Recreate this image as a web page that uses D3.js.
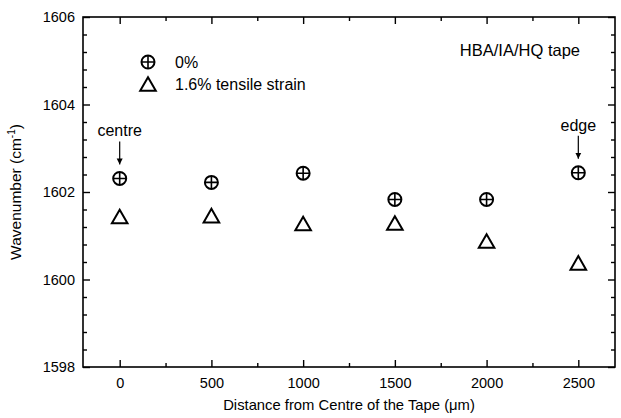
<!DOCTYPE html>
<html>
<head>
<meta charset="utf-8">
<script src="https://cdn.jsdelivr.net/npm/d3@7"></script>
<style>
  body { margin: 0; background: #fff; }
  text { font-family: "Liberation Sans", Arial, sans-serif; fill: #000; }
</style>
</head>
<body>
<svg id="chart" width="621" height="418"></svg>
<script>
// data
var positions = [0, 500, 1000, 1500, 2000, 2500];
var unstrained = [1602.31, 1602.22, 1602.43, 1601.83, 1601.83, 1602.44];
var strained = [1601.44, 1601.46, 1601.28, 1601.29, 1600.88, 1600.38];
var xTicks = [0, 500, 1000, 1500, 2000, 2500];
var yTicks = [1598, 1600, 1602, 1604, 1606];
var seriesNames = ["0%", "1.6% tensile strain"];

var margin = {top: 17, right: 6, bottom: 51, left: 83};
var width = 621 - margin.left - margin.right;
var height = 418 - margin.top - margin.bottom;

var svg = d3.select("#chart");
var g = svg.append("g").attr("transform", `translate(${margin.left},${margin.top})`);

var x = d3.scaleLinear().domain([-200, 2700]).range([0, width]);
var y = d3.scaleLinear().domain([1598, 1606]).range([height, 0]);

// minor ticks
var xMinor = d3.range(-250, 2751, 250).filter(v => v >= -200 && v <= 2700 && xTicks.indexOf(v) < 0);
var yMinor = d3.range(1598, 1606.01, 0.4).map(v => +v.toFixed(1)).filter(v => v % 2 != 0);

function axisPair(axis, transform) {
  var a = g.append("g").attr("transform", transform).call(axis);
  a.select(".domain").remove();
  a.selectAll("line").attr("stroke", "#000").attr("stroke-width", 1.4);
  return a;
}

// bottom
axisPair(d3.axisBottom(x).tickValues(xTicks).tickSize(-7).tickPadding(11).tickFormat(d3.format("d")), `translate(0,${height})`);
axisPair(d3.axisBottom(x).tickValues(xMinor).tickSize(-4).tickFormat(""), `translate(0,${height})`);
// top
axisPair(d3.axisTop(x).tickValues(xTicks).tickSize(-7).tickFormat(""), "translate(0,0)");
axisPair(d3.axisTop(x).tickValues(xMinor).tickSize(-4).tickFormat(""), "translate(0,0)");
// left
axisPair(d3.axisLeft(y).tickValues(yTicks).tickSize(-7).tickPadding(8).tickFormat(d3.format("d")), "translate(0,0)");
axisPair(d3.axisLeft(y).tickValues(yMinor).tickSize(-4).tickFormat(""), "translate(0,0)");
// right
axisPair(d3.axisRight(y).tickValues(yTicks).tickSize(-7).tickFormat(""), `translate(${width},0)`);
axisPair(d3.axisRight(y).tickValues(yMinor).tickSize(-4).tickFormat(""), `translate(${width},0)`);

svg.selectAll(".tick text").attr("font-size", 14.5).attr("font-family", "Liberation Sans, Arial, sans-serif").attr("fill", "#000");

g.append("rect")
  .attr("width", width).attr("height", height)
  .attr("fill", "none").attr("stroke", "#000").attr("stroke-width", 1.6);

// markers
function circleMarker(sel) {
  sel.append("circle").attr("r", 6.5).attr("fill", "none").attr("stroke", "#000").attr("stroke-width", 2);
  sel.append("path").attr("d", "M-6.5,0H6.5M0,-6.5V6.5").attr("stroke", "#000").attr("stroke-width", 1.6);
}
function triangleMarker(sel) {
  sel.append("path").attr("d", "M0,-6.8L7.8,6.8L-7.8,6.8Z")
    .attr("fill", "none").attr("stroke", "#000").attr("stroke-width", 2).attr("stroke-linejoin", "miter");
}

g.selectAll(".pt0").data(positions).enter().append("g")
  .attr("transform", (d, i) => `translate(${x(d)},${y(unstrained[i])})`)
  .each(function() { circleMarker(d3.select(this)); });

g.selectAll(".pt1").data(positions).enter().append("g")
  .attr("transform", (d, i) => `translate(${x(d)},${y(strained[i])})`)
  .each(function() { triangleMarker(d3.select(this)); });

// legend
var lg0 = g.append("g").attr("transform", `translate(${148 - margin.left},${62 - margin.top})`);
circleMarker(lg0);
lg0.append("text").attr("x", 27).attr("y", 6).attr("font-size", 16).text(seriesNames[0]);
var lg1 = g.append("g").attr("transform", `translate(${148 - margin.left},${84 - margin.top})`);
triangleMarker(lg1);
lg1.append("text").attr("x", 27).attr("y", 6).attr("font-size", 16).text(seriesNames[1]);

g.append("text").attr("x", 580 - margin.left).attr("y", 56 - margin.top)
  .attr("text-anchor", "end").attr("font-size", 16.5).text("HBA/IA/HQ tape");

// centre / edge annotations
svg.append("defs").append("marker")
  .attr("id", "arr").attr("viewBox", "0 0 10 10").attr("refX", 10).attr("refY", 5)
  .attr("markerWidth", 6).attr("markerHeight", 8).attr("markerUnits", "userSpaceOnUse").attr("orient", "auto")
  .append("path").attr("d", "M0,0L10,5L0,10Z").attr("fill", "#000");

function note(label, xv, yv) {
  var px = x(xv), py = y(yv);
  g.append("text").attr("x", px).attr("y", py - 42).attr("text-anchor", "middle").attr("font-size", 16).text(label);
  g.append("line").attr("x1", px).attr("x2", px).attr("y1", py - 37).attr("y2", py - 14)
    .attr("stroke", "#000").attr("stroke-width", 1.2).attr("marker-end", "url(#arr)");
}
note("centre", positions[0], unstrained[0]);
note("edge", positions[5], unstrained[5]);

// axis titles
svg.append("text").attr("x", margin.left + width / 2).attr("y", 410)
  .attr("text-anchor", "middle").attr("font-size", 14.8).text("Distance from Centre of the Tape (\u03bcm)");

var yt = svg.append("text").attr("transform", `translate(21,${margin.top + height / 2}) rotate(-90)`)
  .attr("text-anchor", "middle").attr("font-size", 15.5);
yt.append("tspan").text("Wavenumber (cm");
yt.append("tspan").attr("dy", -6).attr("font-size", 10).text("-1");
yt.append("tspan").attr("dy", 6).text(")");
</script>
</body>
</html>
